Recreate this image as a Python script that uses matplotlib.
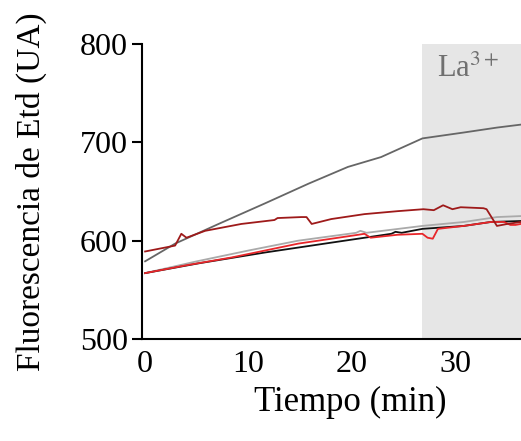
import matplotlib.pyplot as plt

plt.rcParams['font.family'] = ['Liberation Serif', 'DejaVu Serif']
plt.rcParams['mathtext.fontset'] = 'stix'

# Datos (tiempo en min, fluorescencia en UA)
t_gris = [0, 2.9, 7.1, 11.6, 15.8, 19.6, 22.8, 26.8, 30.8, 34.0, 36.3, 38.0, 40.0]
f_gris = [579, 597, 617, 638, 658, 675, 685, 704, 710, 715, 718, 718, 717]

t_rojo_osc = [0, 2.9, 3.5, 4.0, 5.8, 9.3, 12.5, 12.8, 15.1, 15.6, 16.1, 18.0, 21.2, 24.4,
              26.9, 27.9, 28.8, 29.7, 30.5, 32.7, 33.0, 34.0, 35.0, 36.3, 40.0]
f_rojo_osc = [589, 595, 607, 603, 610, 617, 621, 623, 624, 624, 617, 622, 627, 630,
              632, 631, 636, 632, 634, 633, 632, 615, 617, 619, 622]

t_rojo = [0, 4.0, 8.4, 14.8, 20.6, 21.2, 21.8, 24.4, 26.8, 27.3, 27.8, 28.3, 30.8,
          33.4, 34.7, 35.3, 35.8, 36.3, 40.0]
f_rojo = [567, 575, 583, 597, 606, 607, 603, 606, 607, 603, 602, 612, 615,
          619, 619, 616, 616, 617, 619]

t_negro = [0, 5.2, 11.6, 18.0, 23.8, 24.2, 24.8, 26.8, 30.8, 33.4, 36.3, 40.0]
f_negro = [567, 577, 588, 598, 607, 609, 608, 612, 615, 619, 620, 623]

t_gris_cl = [0, 5.0, 10.0, 14.8, 20.4, 20.8, 21.4, 26.8, 30.8, 34.0, 36.3, 40.0]
f_gris_cl = [567, 579, 590, 600, 608, 610, 608, 615, 619, 624, 625, 627]

inicio_la = 26.8

fig = plt.figure(figsize=(5.21, 4.41), dpi=100)
ax = fig.add_axes([142 / 521, 102 / 441, 417 / 521, 295 / 441])

ax.axvspan(inicio_la, 40, color='#e6e6e6', lw=0, zorder=0)
ax.text(31.2, 774, r'La$^{3+}$', color='#707070', fontsize=22, ha='center', va='center')

ax.plot(t_gris, f_gris, color='#666666', lw=1.3)
ax.plot(t_gris_cl, f_gris_cl, color='#aaaaaa', lw=1.3)
ax.plot(t_negro, f_negro, color='#111111', lw=1.3)
ax.plot(t_rojo, f_rojo, color='#e8262a', lw=1.3)
ax.plot(t_rojo_osc, f_rojo_osc, color='#9e1a1a', lw=1.3)

ax.set_xlim(-0.3, 40)
ax.set_ylim(500, 800)
ax.set_xticks([0, 10, 20, 30])
ax.set_yticks([500, 600, 700, 800])

for s in ['top', 'right']:
    ax.spines[s].set_visible(False)
for s in ['left', 'bottom']:
    ax.spines[s].set_linewidth(1.5)

ax.tick_params(axis='x', length=0, pad=8, labelsize=23)
ax.tick_params(axis='y', length=7, width=1.5, pad=3, labelsize=23)

ax.set_xlabel('Tiempo (min)', fontsize=25, labelpad=5)
ax.set_ylabel('Fluorescencia de Etd (UA)', fontsize=24)
ax.yaxis.set_label_coords(-0.228, 0.5)

fig.savefig('out.png', dpi=100)
